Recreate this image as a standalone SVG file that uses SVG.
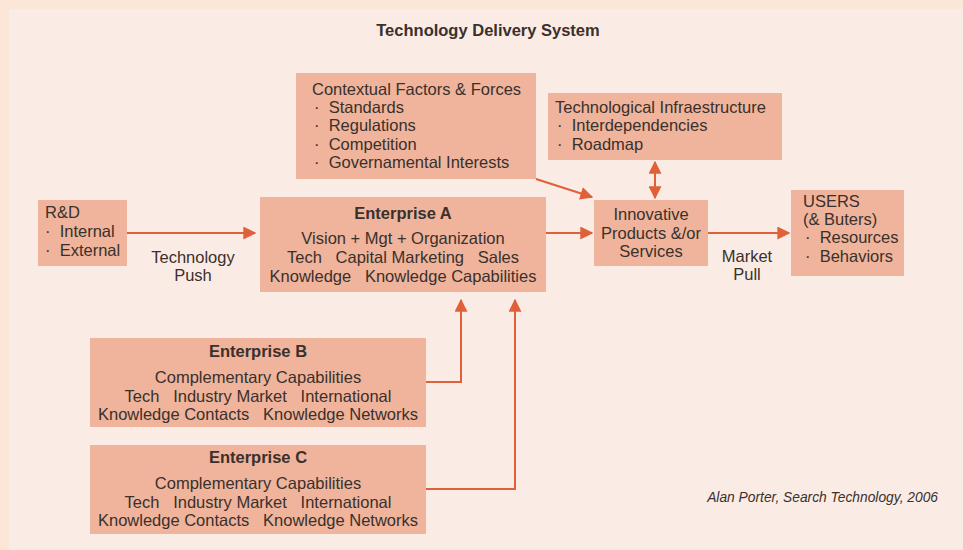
<svg xmlns="http://www.w3.org/2000/svg" width="963" height="550" viewBox="0 0 963 550">
<defs>
<style>
.box{fill:#efb49b;}
.t{font-family:"Liberation Sans",Arial,sans-serif;font-size:16.5px;fill:#3a302c;}
.c{text-anchor:middle;}
.b{font-weight:bold;}
.conn{stroke:#e0603a;stroke-width:2;fill:none;}
</style>
<marker id="ah" viewBox="0 0 10 10" refX="9" refY="5" markerWidth="6.5" markerHeight="6.5" orient="auto-start-reverse" markerUnits="strokeWidth">
<path d="M0,0 L10,5 L0,10 z" fill="#e0603a"/>
</marker>
</defs>
<rect x="0" y="0" width="963" height="550" fill="#fbe6d8"/>
<rect x="9" y="9" width="954" height="541" fill="#faece5"/>
<text x="488" y="36" class="t c b">Technology Delivery System</text>

<g id="connectors">
<line class="conn" x1="127" y1="233" x2="255" y2="233" marker-end="url(#ah)"/>
<line class="conn" x1="546" y1="233" x2="592" y2="233" marker-end="url(#ah)"/>
<line class="conn" x1="708" y1="233" x2="789" y2="233" marker-end="url(#ah)"/>
<line class="conn" x1="536" y1="179" x2="592" y2="197" marker-end="url(#ah)"/>
<line class="conn" x1="655" y1="162" x2="655" y2="198" marker-start="url(#ah)" marker-end="url(#ah)"/>
<polyline class="conn" points="426,382 461,382 461,300" marker-end="url(#ah)"/>
<polyline class="conn" points="426,489 515,489 515,300" marker-end="url(#ah)"/>
</g>

<g id="contextual">
<rect class="box" x="296" y="73" width="240" height="106"/>
<text class="t" x="312" y="95">Contextual Factors &amp; Forces</text>
<text class="t" x="314" y="113" xml:space="preserve">·  Standards</text>
<text class="t" x="314" y="131" xml:space="preserve">·  Regulations</text>
<text class="t" x="314" y="150" xml:space="preserve">·  Competition</text>
<text class="t" x="314" y="168" xml:space="preserve">·  Governamental Interests</text>
</g>

<g id="infrastructure">
<rect class="box" x="548" y="93" width="234" height="67"/>
<text class="t" x="555" y="113">Technological Infraestructure</text>
<text class="t" x="557" y="131" xml:space="preserve">·  Interdependencies</text>
<text class="t" x="557" y="150" xml:space="preserve">·  Roadmap</text>
</g>

<g id="rd">
<rect class="box" x="38" y="200" width="89" height="66"/>
<text class="t" x="45" y="218">R&amp;D</text>
<text class="t" x="45" y="237" xml:space="preserve">·  Internal</text>
<text class="t" x="45" y="256" xml:space="preserve">·  External</text>
</g>

<g id="push-label">
<text class="t c" x="193" y="263">Technology</text>
<text class="t c" x="193" y="281">Push</text>
</g>

<g id="enterpriseA">
<rect class="box" x="260" y="197" width="286" height="95"/>
<text class="t c b" x="403" y="219">Enterprise A</text>
<text class="t c" x="403" y="244">Vision + Mgt + Organization</text>
<text class="t c" x="403" y="263" xml:space="preserve">Tech   Capital Marketing   Sales</text>
<text class="t c" x="403" y="282" xml:space="preserve">Knowledge   Knowledge Capabilities</text>
</g>

<g id="innovative">
<rect class="box" x="594" y="200" width="114" height="66"/>
<text class="t c" x="651" y="220">Innovative</text>
<text class="t c" x="651" y="239">Products &amp;/or</text>
<text class="t c" x="651" y="257">Services</text>
</g>

<g id="pull-label">
<text class="t c" x="747" y="262">Market</text>
<text class="t c" x="747" y="280">Pull</text>
</g>

<g id="users">
<rect class="box" x="791" y="190" width="113" height="86"/>
<text class="t" x="803" y="207">USERS</text>
<text class="t" x="803" y="225">(&amp; Buters)</text>
<text class="t" x="805" y="243" xml:space="preserve">·  Resources</text>
<text class="t" x="805" y="262" xml:space="preserve">·  Behaviors</text>
</g>

<g id="enterpriseB">
<rect class="box" x="90" y="338" width="336" height="89"/>
<text class="t c b" x="258" y="357">Enterprise B</text>
<text class="t c" x="258" y="383">Complementary Capabilities</text>
<text class="t c" x="258" y="402" xml:space="preserve">Tech   Industry Market   International</text>
<text class="t c" x="258" y="420" xml:space="preserve">Knowledge Contacts   Knowledge Networks</text>
</g>

<g id="enterpriseC">
<rect class="box" x="90" y="445" width="336" height="89"/>
<text class="t c b" x="258" y="463">Enterprise C</text>
<text class="t c" x="258" y="489">Complementary Capabilities</text>
<text class="t c" x="258" y="508" xml:space="preserve">Tech   Industry Market   International</text>
<text class="t c" x="258" y="526" xml:space="preserve">Knowledge Contacts   Knowledge Networks</text>
</g>

<text class="t" x="938" y="502" style="font-size:13.8px;font-style:italic" text-anchor="end">Alan Porter, Search Technology, 2006</text>
</svg>
